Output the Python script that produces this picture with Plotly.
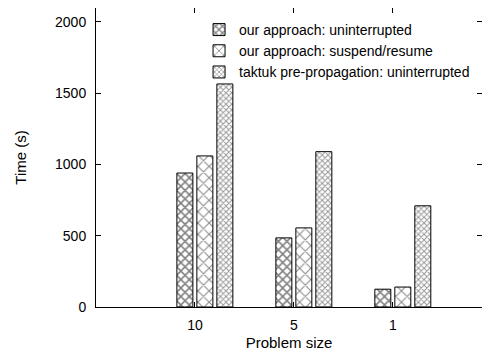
import plotly.graph_objects as go

categories = ["10", "5", "1"]
series_names = [
    "our approach: uninterrupted",
    "our approach: suspend/resume",
    "taktuk pre-propagation: uninterrupted",
]
uninterrupted = [940, 485, 125]
suspend_resume = [1060, 555, 140]
taktuk = [1565, 1090, 710]
y_ticks = [0, 500, 1000, 1500, 2000]

FONT = "Liberation Sans, Arial, sans-serif"
xpos = list(range(len(categories)))
tick_shift = -0.1

styles = [
    dict(shape="x", size=6, solidity=0.45, fgcolor="#000000"),
    dict(shape="x", size=8, solidity=0.25, fgcolor="#111111"),
    dict(shape="x", size=4, solidity=0.45, fgcolor="#333333"),
]

fig = go.Figure()
for name, vals, st in zip(series_names, [uninterrupted, suspend_resume, taktuk], styles):
    fig.add_trace(go.Bar(
        x=xpos, y=vals, name=name,
        marker=dict(color="white",
                    line=dict(color="black", width=1),
                    pattern=dict(shape=st["shape"], size=st["size"], solidity=st["solidity"],
                                 fgcolor=st["fgcolor"], bgcolor="white", fillmode="overlay")),
    ))

fig.update_layout(
    width=474, height=343,
    margin=dict(l=88, r=0, t=0, b=44, autoexpand=False),
    paper_bgcolor="white", plot_bgcolor="white",
    barmode="group", bargap=0.394, bargroupgap=0.2,
    font=dict(family=FONT, size=14, color="black"),
    showlegend=True,
    legend=dict(x=0.982, y=0.98, xanchor="right", yanchor="top",
                bgcolor="rgba(255,255,255,0)", font=dict(size=14),
                tracegroupgap=0, itemwidth=30),
)
fig.update_xaxes(
    range=[-1.10, 2.80], automargin=False,
    tickvals=[p + tick_shift for p in xpos], ticktext=categories,
    ticks="inside", ticklen=5, tickcolor="black", ticklabelstandoff=5,
    showline=True, linecolor="black", linewidth=1, mirror="ticks",
    showgrid=False, zeroline=False,
    title=dict(text="Problem size", font=dict(size=15), standoff=15),
)
fig.update_yaxes(
    range=[0, 2098], automargin=False,
    tickvals=y_ticks,
    ticks="inside", ticklen=5, tickcolor="black", ticklabelstandoff=6,
    showline=True, linecolor="black", linewidth=1, mirror="ticks",
    showgrid=False, zeroline=False,
    title=dict(text="Time (s)", font=dict(size=15), standoff=24),
)

fig.write_html("out.html")
